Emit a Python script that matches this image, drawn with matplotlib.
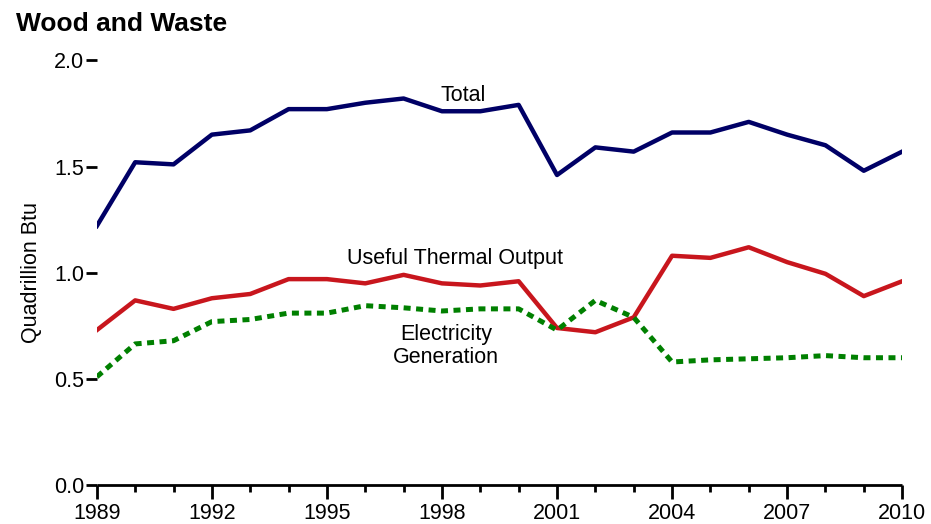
import matplotlib
matplotlib.use('Agg')
import matplotlib.pyplot as plt
import numpy as np

plt.rcParams['font.family'] = ['Liberation Sans', 'DejaVu Sans']

YEARS = list(range(1989, 2011))
TOTAL = [1.22, 1.52, 1.51, 1.65, 1.67, 1.77, 1.77, 1.80, 1.82, 1.76, 1.76, 1.79,
         1.46, 1.59, 1.57, 1.66, 1.66, 1.71, 1.65, 1.60, 1.48, 1.57]
THERMAL = [0.73, 0.87, 0.83, 0.88, 0.90, 0.97, 0.97, 0.95, 0.99, 0.95, 0.94, 0.96,
           0.74, 0.72, 0.79, 1.08, 1.07, 1.12, 1.05, 0.995, 0.89, 0.96]
ELECTRIC = [0.51, 0.665, 0.68, 0.77, 0.78, 0.81, 0.81, 0.845, 0.835, 0.82, 0.83, 0.83,
            0.73, 0.87, 0.79, 0.58, 0.59, 0.595, 0.60, 0.61, 0.60, 0.60]
YTICKS = [0.0, 0.5, 1.0, 1.5, 2.0]
XLABEL_YEARS = list(range(1989, 2011, 3))

fig = plt.figure(figsize=(9.31, 5.24), dpi=100)
ax = fig.add_axes([0.104, 0.074, 0.865, 0.811])

ax.plot(YEARS, TOTAL, color='#000066', lw=3.2)
ax.plot(YEARS, THERMAL, color='#c8161d', lw=3.2)
ax.plot(YEARS, ELECTRIC, color='#008000', lw=3.6, dashes=(1.4, 1.1))

ax.text(1998.55, 1.835, 'Total', ha='center', va='center', fontsize=15.5)
ax.text(1998.35, 1.065, 'Useful Thermal Output', ha='center', va='center', fontsize=15.5)
ax.text(1998.1, 0.655, 'Electricity\nGeneration', ha='center', va='center',
        fontsize=15.5, linespacing=1.1)

ax.set_xlim(1989, 2010)
ax.set_ylim(0, 2.0)
for s in ['top', 'right', 'left']:
    ax.spines[s].set_visible(False)
ax.spines['bottom'].set_linewidth(2)
ax.spines['bottom'].set_capstyle('butt')

ax.set_yticks(YTICKS)
ax.set_yticklabels([f'{v:.1f}' for v in YTICKS])
ax.set_xticks(XLABEL_YEARS)
ax.set_xticklabels([str(y) for y in XLABEL_YEARS])
ax.set_xticks(YEARS, minor=True)
ax.tick_params(axis='x', which='major', length=10, width=2, labelsize=15.5, pad=3)
ax.tick_params(axis='x', which='minor', length=5, width=2)
ax.tick_params(axis='y', length=8, width=2, labelsize=15.5, pad=1)
ax.set_ylabel('Quadrillion Btu', fontsize=15.5)
ax.yaxis.set_label_coords(-0.068, 0.5)

fig.text(0.017, 0.954, 'Wood and Waste', fontsize=19, fontweight='bold', va='center')

fig.savefig('out.png', dpi=100)
